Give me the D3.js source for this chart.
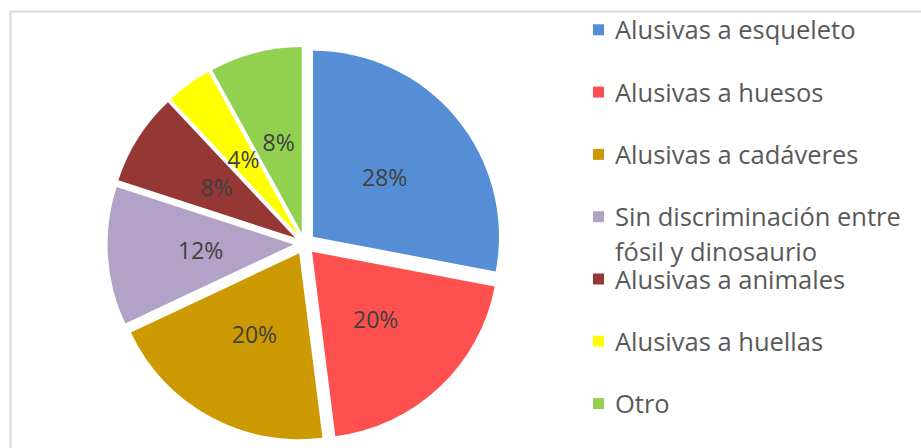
<!DOCTYPE html>
<html>
<head>
<meta charset="utf-8">
<script src="https://cdn.jsdelivr.net/npm/d3@7"></script>
<style>
  body { margin: 0; background: #fff; }
  svg { display: block; }
</style>
</head>
<body>
<div id="chart"></div>
<script>
const categories = [
  "Alusivas a esqueleto",
  "Alusivas a huesos",
  "Alusivas a cadáveres",
  "Sin discriminación entre\nfósil y dinosaurio",
  "Alusivas a animales",
  "Alusivas a huellas",
  "Otro"
];
const values = [28, 20, 20, 12, 8, 4, 8];
const labels = ["28%", "20%", "20%", "12%", "8%", "4%", "8%"];
const colors = ["#558ED5", "#FF5050", "#CC9900", "#B3A2C7", "#953735", "#FFFF00", "#92D050"];

const w = 921;
const h = 448;
const cx = 304.5, cy = 243.7, r = 186, explode = 11;

const svg = d3.select("#chart")
  .append("svg")
  .attr("width", w)
  .attr("height", h);

// chart frame (cut off at right and bottom)
svg.append("path")
  .attr("d", `M${w + 5},11.5 H10.5 V${h + 5}`)
  .attr("fill", "none")
  .attr("stroke", "#D9D9D9")
  .attr("stroke-width", 2);

const pie = d3.pie().sort(null).value((d) => d);
const arcs = pie(values);
const arc = d3.arc().innerRadius(0).outerRadius(r);
const labelArc = d3.arc().innerRadius(r * 0.5).outerRadius(r * 0.5);

const g = svg.append("g").attr("transform", `translate(${cx},${cy})`);

const slice = g.selectAll("g.slice")
  .data(arcs)
  .enter()
  .append("g")
  .attr("class", "slice")
  .attr("transform", (d) => {
    const a = (d.startAngle + d.endAngle) / 2;
    return `translate(${Math.sin(a) * explode},${-Math.cos(a) * explode})`;
  });

slice.append("path")
  .attr("d", arc)
  .attr("fill", (d, i) => colors[i]);

slice.append("text")
  .attr("transform", (d) => `translate(${labelArc.centroid(d)})`)
  .attr("text-anchor", "middle")
  .attr("dy", "0.36em")
  .attr("font-family", "'Open Sans', sans-serif")
  .attr("font-size", 23)
  .attr("fill", "#404040")
  .text((d, i) => labels[i]);

// legend
const legend = svg.append("g");
const rowStep = 62.3;

const item = legend.selectAll("g")
  .data(categories)
  .enter()
  .append("g")
  .attr("transform", (d, i) => `translate(593,${39.3 + i * rowStep})`);

item.append("rect")
  .attr("x", 0)
  .attr("y", -15)
  .attr("width", 11)
  .attr("height", 11)
  .attr("fill", (d, i) => colors[i]);

item.append("text")
  .attr("font-family", "'Open Sans', sans-serif")
  .attr("font-size", 25.5)
  .attr("fill", "#595959")
  .selectAll("tspan")
  .data((d) => d.split("\n"))
  .enter()
  .append("tspan")
  .attr("x", 22)
  .attr("y", (d, j) => j * 35)
  .text((d) => d);
</script>
</body>
</html>
